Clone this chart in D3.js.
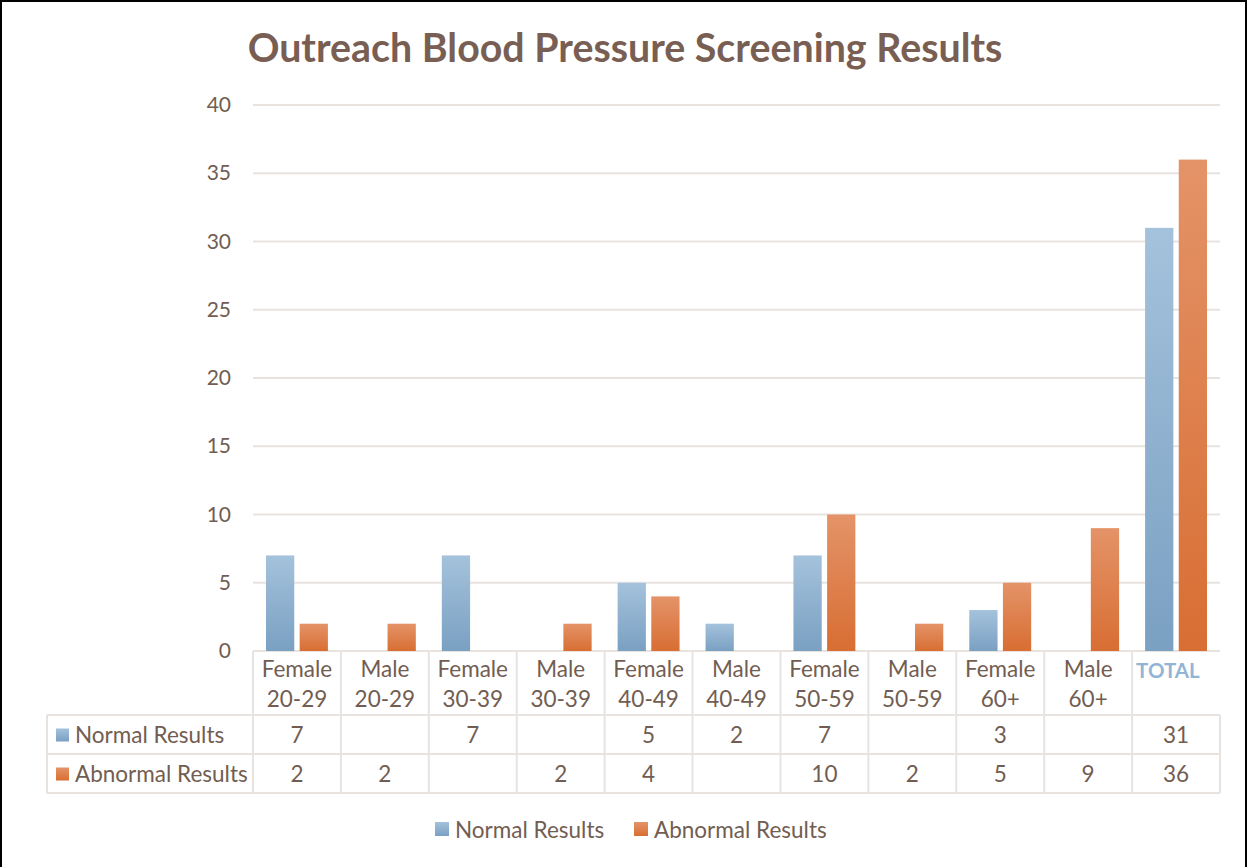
<!DOCTYPE html>
<html>
<head>
<meta charset="utf-8">
<script src="https://cdn.jsdelivr.net/npm/d3@7"></script>
<style>
  body { margin: 0; background: #fff; }
  svg { display: block; font-family: Lato, "Open Sans", sans-serif; }
</style>
</head>
<body>
<div id="chart"></div>
<script>
// chart data
const categories = [
  ["Female", "20-29"], ["Male", "20-29"], ["Female", "30-39"], ["Male", "30-39"],
  ["Female", "40-49"], ["Male", "40-49"], ["Female", "50-59"], ["Male", "50-59"],
  ["Female", "60+"], ["Male", "60+"], ["TOTAL"]
];
const seriesNames = ["Normal Results", "Abnormal Results"];
const normalValues = [7, null, 7, null, 5, 2, 7, null, 3, null, 31];
const abnormalValues = [2, 2, null, 2, 4, null, 10, 2, 5, 9, 36];
const yTicks = [0, 5, 10, 15, 20, 25, 30, 35, 40];

const width = 1248;
const height = 867;
const textColor = "#725d52";
const gridColor = "#e9e3e0";
const fontSize = 22.5;

const svg = d3.select("#chart")
  .append("svg")
  .attr("width", width)
  .attr("height", height);

// gradients for bars
const defs = svg.append("defs");
const grads = [
  { id: "gBlue", top: "#a4c2dc", bottom: "#7aa0c2" },
  { id: "gOrange", top: "#e49368", bottom: "#d86e33" }
];
grads.forEach(g => {
  const lg = defs.append("linearGradient").attr("id", g.id)
    .attr("x1", 0).attr("y1", 0).attr("x2", 0).attr("y2", 1);
  lg.append("stop").attr("offset", "0%").attr("stop-color", g.top);
  lg.append("stop").attr("offset", "100%").attr("stop-color", g.bottom);
});
const fills = ["url(#gBlue)", "url(#gOrange)"];

// frame (no bottom edge visible)
svg.append("rect")
  .attr("x", 1).attr("y", 1)
  .attr("width", width - 3).attr("height", height + 10)
  .attr("fill", "none").attr("stroke", "#000").attr("stroke-width", 2);

// title
const title = svg.append("text")
  .attr("x", 625).attr("y", 62)
  .attr("text-anchor", "middle")
  .attr("fill", "#795f53")
  .attr("font-weight", "bold")
  .attr("font-size", 36)
  .text("Outreach Blood Pressure Screening Results");
const tw = title.node().getComputedTextLength();
title.attr("font-size", 36 * 755 / tw);

// scales
const x = d3.scaleBand()
  .domain(d3.range(categories.length))
  .range([253, 1220])
  .padding(0);

const y = d3.scaleLinear()
  .domain([0, 40])
  .range([651, 105]);

const xSub = d3.scaleBand()
  .domain(d3.range(seriesNames.length))
  .range([13, x.bandwidth() - 13])
  .paddingInner(0.16);

// gridlines
svg.append("g")
  .selectAll("line")
  .data(yTicks)
  .enter()
  .append("line")
  .attr("x1", 253)
  .attr("x2", 1220)
  .attr("y1", d => y(d))
  .attr("y2", d => y(d))
  .attr("stroke", gridColor)
  .attr("stroke-width", 2);

// y axis labels
const yAxis = svg.append("g")
  .attr("transform", "translate(241,0)")
  .call(d3.axisLeft(y).tickValues(yTicks).tickSize(0).tickPadding(10));
yAxis.select(".domain").remove();
yAxis.selectAll("text")
  .attr("fill", textColor)
  .attr("font-size", 21)
  .attr("font-family", "Lato, 'Open Sans', sans-serif");

// bars
const seriesValues = [normalValues, abnormalValues];
seriesValues.forEach((vals, si) => {
  svg.append("g")
    .selectAll("rect")
    .data(vals.map((v, i) => ({ v, i })).filter(d => d.v != null))
    .enter()
    .append("rect")
    .attr("x", d => x(d.i) + xSub(si))
    .attr("width", xSub.bandwidth())
    .attr("y", d => y(d.v))
    .attr("height", d => y(0) - y(d.v))
    .attr("fill", fills[si]);
});

// data table
const tableLeft = 47;
const rowTops = [651, 715, 754, 793];
const table = svg.append("g");

// category header cells
categories.forEach((c, i) => {
  const cx = x(i) + x.bandwidth() / 2;
  if (c[0] === "TOTAL") {
    table.append("text")
      .attr("x", x(i) + 4).attr("y", 678)
      .attr("fill", "#93b5d5")
      .attr("font-weight", "bold")
      .attr("font-size", 20.5)
      .text(c[0]);
  } else {
    c.forEach((line, li) => {
      table.append("text")
        .attr("x", cx).attr("y", 677 + li * 30)
        .attr("text-anchor", "middle")
        .attr("fill", textColor)
        .attr("font-size", fontSize)
        .text(line);
    });
  }
});

// value rows
seriesValues.forEach((vals, si) => {
  const top = rowTops[si + 1];
  const mid = (top + rowTops[si + 2]) / 2;
  table.append("rect")
    .attr("x", 56).attr("y", mid - 6)
    .attr("width", 13).attr("height", 13)
    .attr("fill", fills[si]);
  table.append("text")
    .attr("x", 75).attr("y", mid + 8)
    .attr("fill", textColor)
    .attr("font-size", fontSize)
    .text(seriesNames[si]);
  vals.forEach((v, i) => {
    if (v == null) return;
    table.append("text")
      .attr("x", x(i) + x.bandwidth() / 2).attr("y", mid + 8)
      .attr("text-anchor", "middle")
      .attr("fill", textColor)
      .attr("font-size", fontSize)
      .text(v);
  });
});

// table borders
const borders = table.append("g")
  .attr("stroke", gridColor)
  .attr("stroke-width", 2);
// horizontal lines
rowTops.slice(1).forEach(ry => {
  borders.append("line").attr("x1", tableLeft).attr("x2", 1220).attr("y1", ry).attr("y2", ry);
});
// vertical lines
borders.append("line").attr("x1", tableLeft).attr("x2", tableLeft).attr("y1", rowTops[1]).attr("y2", rowTops[3]);
d3.range(categories.length + 1).forEach(i => {
  const xx = i < categories.length ? x(i) : 1220;
  borders.append("line")
    .attr("x1", xx).attr("x2", xx)
    .attr("y1", i === categories.length ? rowTops[1] : rowTops[0])
    .attr("y2", rowTops[3]);
});

// legend
const legendItems = [
  { name: seriesNames[0], x: 435 },
  { name: seriesNames[1], x: 634 }
];
const legend = svg.append("g");
legendItems.forEach((d, i) => {
  legend.append("rect")
    .attr("x", d.x).attr("y", 822)
    .attr("width", 14).attr("height", 14)
    .attr("fill", fills[i]);
  legend.append("text")
    .attr("x", d.x + 20).attr("y", 838)
    .attr("fill", textColor)
    .attr("font-size", fontSize)
    .text(d.name);
});
</script>
</body>
</html>
